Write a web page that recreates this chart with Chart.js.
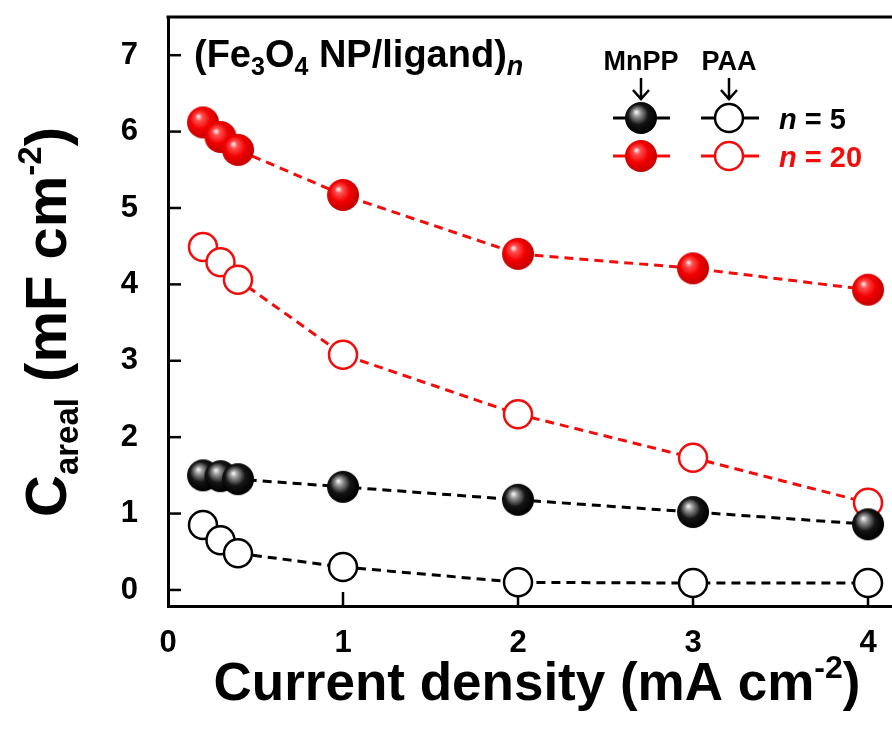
<!DOCTYPE html>
<html>
<head>
<meta charset="utf-8">
<title>Careal vs current density</title>
<script src="https://cdn.jsdelivr.net/npm/chart.js@4.4.8/dist/chart.umd.min.js"></script>
<style>
  html, body { margin: 0; padding: 0; background: #fff; }
  #wrap { width: 892px; height: 731px; }
</style>
</head>
<body>
<div id="wrap"><canvas id="chart" width="892" height="731"></canvas></div>
<script>
// data
const currentDensity = [0.2, 0.3, 0.4, 1, 2, 3, 4];
const mnpp5  = [1.50, 1.49, 1.45, 1.35, 1.18, 1.02, 0.86];
const paa5   = [0.85, 0.65, 0.48, 0.30, 0.10, 0.09, 0.09];
const mnpp20 = [6.12, 5.93, 5.76, 5.17, 4.40, 4.21, 3.93];
const paa20  = [4.49, 4.29, 4.06, 3.08, 2.30, 1.73, 1.14];
const xTicks = [0, 1, 2, 3, 4];
const yTicks = [0, 1, 2, 3, 4, 5, 6, 7];

const FONT = 'Arial, "Liberation Sans", sans-serif';
const RED = '#f20d0d';
const BLACK = '#000';

// shaded sphere used as point style
function makeSphere(r, light, base, dark) {
    const c = document.createElement('canvas');
    c.width = c.height = 2 * r + 2;
    const g = c.getContext('2d');
    const cx = r + 1, cy = r + 1;
    const grad = g.createRadialGradient(cx - r * 0.3, cy - r * 0.38, 0, cx - r * 0.1, cy - r * 0.1, r * 1.05);
    grad.addColorStop(0, '#ffffff');
    grad.addColorStop(0.22, light);
    grad.addColorStop(0.6, base);
    grad.addColorStop(1, dark);
    g.fillStyle = grad;
    g.beginPath();
    g.arc(cx, cy, r, 0, Math.PI * 2);
    g.fill();
    return c;
}
const redBall = makeSphere(16, '#ff5050', '#f20000', '#c80000');
const blackBall = makeSphere(16, '#9a9a9a', '#151515', '#000000');

function pts(ys) {
    return currentDensity.map((x, i) => ({x: x, y: ys[i]}));
}

// text made of pieces (sub / superscripts)
function drawRich(ctx, parts, x, y, align) {
    let total = 0;
    parts.forEach(p => {
        ctx.font = (p.italic ? 'italic ' : '') + 'bold ' + p.size + 'px ' + FONT;
        p.w = ctx.measureText(p.t).width;
        total += p.w;
    });
    let cx = align === 'center' ? x - total / 2 : x;
    ctx.textAlign = 'left';
    ctx.textBaseline = 'alphabetic';
    parts.forEach(p => {
        ctx.font = (p.italic ? 'italic ' : '') + 'bold ' + p.size + 'px ' + FONT;
        ctx.fillStyle = p.color || '#000';
        ctx.fillText(p.t, cx, y + (p.dy || 0));
        cx += p.w;
    });
}

const decorations = {
    id: 'decorations',
    beforeDatasetsDraw(chart) {
        const {ctx, chartArea: a, scales: {x, y}} = chart;
        ctx.save();
        ctx.strokeStyle = '#000';
        ctx.lineWidth = 3;
        // top frame line
        ctx.beginPath();
        ctx.moveTo(a.left - 1.5, a.top);
        ctx.lineTo(a.right, a.top);
        ctx.stroke();
        // inward ticks
        ctx.lineWidth = 2.5;
        yTicks.forEach(v => {
            const py = y.getPixelForValue(v);
            ctx.beginPath();
            ctx.moveTo(a.left, py);
            ctx.lineTo(a.left + 13, py);
            ctx.stroke();
        });
        xTicks.slice(1).forEach(v => {
            const px = x.getPixelForValue(v);
            ctx.beginPath();
            ctx.moveTo(px, a.bottom);
            ctx.lineTo(px, a.bottom - 14);
            ctx.stroke();
        });
        ctx.restore();
    },
    afterDraw(chart) {
        const ctx = chart.ctx;
        ctx.save();

        // y title
        ctx.save();
        ctx.translate(66, 322);
        ctx.rotate(-Math.PI / 2);
        drawRich(ctx, [
            {t: 'C', size: 58},
            {t: 'areal', size: 33, dy: 12},
            {t: ' (mF cm', size: 58},
            {t: '-2', size: 33, dy: -25},
            {t: ')', size: 58}
        ], 0, 0, 'center');
        ctx.restore();

        // x title
        drawRich(ctx, [
            {t: 'Current density (mA cm', size: 53},
            {t: '-2', size: 32, dy: -22},
            {t: ')', size: 53}
        ], 537, 700, 'center');

        // panel label
        drawRich(ctx, [
            {t: '(Fe', size: 38},
            {t: '3', size: 25, dy: 8},
            {t: 'O', size: 38},
            {t: '4', size: 25, dy: 8},
            {t: ' NP/ligand)', size: 38},
            {t: 'n', size: 27, dy: 8, italic: true}
        ], 194, 67, 'left');

        // legend
        drawRich(ctx, [{t: 'MnPP', size: 27}], 641, 70, 'center');
        drawRich(ctx, [{t: 'PAA', size: 27}], 729, 70, 'center');
        ctx.strokeStyle = '#000';
        ctx.lineWidth = 2.5;
        [641, 729].forEach(ax => {
            ctx.beginPath();
            ctx.moveTo(ax, 78);
            ctx.lineTo(ax, 99);
            ctx.moveTo(ax - 8, 90);
            ctx.lineTo(ax, 99);
            ctx.lineTo(ax + 8, 90);
            ctx.stroke();
        });
        const rows = [
            {y: 118, color: BLACK, ball: blackBall, label: ' = 5'},
            {y: 156, color: RED, ball: redBall, label: ' = 20'}
        ];
        rows.forEach(r => {
            ctx.strokeStyle = r.color;
            ctx.lineWidth = 3;
            [[613, 628], [655, 670], [701, 716], [743, 759]].forEach(s => {
                ctx.beginPath();
                ctx.moveTo(s[0], r.y);
                ctx.lineTo(s[1], r.y);
                ctx.stroke();
            });
            ctx.drawImage(r.ball, 641 - r.ball.width / 2, r.y - r.ball.height / 2);
            ctx.beginPath();
            ctx.arc(729, r.y, 14, 0, Math.PI * 2);
            ctx.fillStyle = '#fff';
            ctx.fill();
            ctx.lineWidth = 2.5;
            ctx.stroke();
            drawRich(ctx, [
                {t: 'n', size: 29, italic: true, color: r.color},
                {t: r.label, size: 29, color: r.color}
            ], 779, r.y + 11, 'left');
        });
        ctx.restore();
    }
};

const common = {
    showLine: true,
    borderWidth: 3,
    borderDash: [9, 6],
    pointRadius: 16,
    pointHoverRadius: 16,
    clip: false
};

new Chart(document.getElementById('chart'), {
    type: 'scatter',
    data: {
        datasets: [
            Object.assign({}, common, {
                label: 'MnPP n=5', data: pts(mnpp5),
                borderColor: BLACK, pointStyle: blackBall
            }),
            Object.assign({}, common, {
                label: 'PAA n=5', data: pts(paa5),
                borderColor: BLACK, pointStyle: 'circle', pointRadius: 14,
                pointBackgroundColor: '#fff', pointBorderColor: BLACK, pointBorderWidth: 2.5
            }),
            Object.assign({}, common, {
                label: 'MnPP n=20', data: pts(mnpp20),
                borderColor: RED, pointStyle: redBall
            }),
            Object.assign({}, common, {
                label: 'PAA n=20', data: pts(paa20),
                borderColor: RED, pointStyle: 'circle', pointRadius: 14,
                pointBackgroundColor: '#fff', pointBorderColor: RED, pointBorderWidth: 2.5
            })
        ]
    },
    options: {
        responsive: false,
        animation: false,
        events: [],
        layout: {
            autoPadding: false,
            padding: { top: 17, right: 0, left: 0, bottom: 0 }
        },
        plugins: {
            legend: { display: false },
            tooltip: { enabled: false }
        },
        scales: {
            x: {
                type: 'linear',
                min: 0,
                max: 4.137,
                afterFit: s => {
                    s.height = 125;
                    s.paddingLeft = 0;
                    s.paddingRight = 0;
                },
                afterBuildTicks: s => { s.ticks = xTicks.map(v => ({value: v})); },
                grid: { display: false },
                border: { display: true, color: '#000', width: 3 },
                ticks: {
                    color: '#000',
                    padding: 11,
                    font: { family: FONT, size: 31, weight: 'bold' }
                }
            },
            y: {
                type: 'linear',
                min: -0.21,
                max: 7.5,
                afterFit: s => {
                    s.width = 168;
                    s.paddingTop = 0;
                    s.paddingBottom = 0;
                },
                afterBuildTicks: s => { s.ticks = yTicks.map(v => ({value: v})); },
                grid: { display: false },
                border: { display: true, color: '#000', width: 3 },
                ticks: {
                    color: '#000',
                    padding: 22,
                    font: { family: FONT, size: 31, weight: 'bold' }
                }
            }
        }
    },
    plugins: [decorations]
});
</script>
</body>
</html>
